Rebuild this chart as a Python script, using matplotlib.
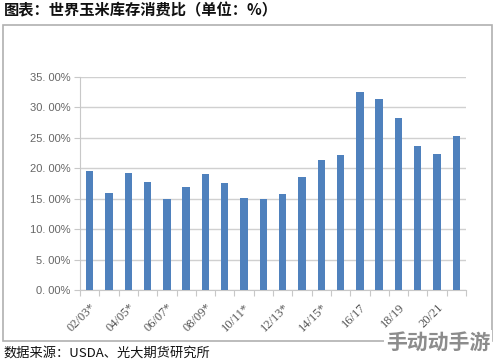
import matplotlib
matplotlib.use("Agg")
import matplotlib.pyplot as plt
from matplotlib.patches import Rectangle
from matplotlib.ticker import FixedLocator, FuncFormatter

plt.rcParams['font.family'] = ['Noto Sans CJK SC', 'DejaVu Sans']

categories = ["02/03*", "03/04*", "04/05*", "05/06*", "06/07*", "07/08*", "08/09*",
              "09/10*", "10/11*", "11/12*", "12/13*", "13/14*", "14/15*", "15/16*",
              "16/17", "17/18", "18/19", "19/20", "20/21", "21/22"]
values = [19.55, 16.0, 19.2, 17.8, 15.0, 16.9, 19.1, 17.6, 15.15, 15.0,
          15.7, 18.55, 21.4, 22.2, 32.5, 31.45, 28.2, 23.6, 22.4, 25.3]
yticks = [0, 5, 10, 15, 20, 25, 30, 35]

title = "图表：世界玉米库存消费比（单位：%）"
source = "数据来源：USDA、光大期货研究所"
watermark = "手动动手游"

W, H = 494, 362
fig = plt.figure(figsize=(W / 100, H / 100), dpi=100)

# outer frame
fig.patches.append(Rectangle((3 / W, 1 - 341 / H), (492 - 3) / W, (341 - 25) / H,
                             transform=fig.transFigure, fill=False,
                             edgecolor='#b0b0b0', linewidth=1.2))

ax = fig.add_axes([80 / W, 1 - 290 / H, (466 - 80) / W, (290 - 77) / H])
x = list(range(len(values)))
ax.bar(x, values, width=0.38, color='#4f81bd', zorder=3)
ax.set_xlim(-0.5, len(values) - 0.5)
ax.set_ylim(0, 35)
ax.set_yticks(yticks)
ax.yaxis.set_major_formatter(FuncFormatter(lambda v, p: f"{v:.2f}".replace(".", ". ") + "%"))
ax.grid(axis='y', color='#d0d0d0', linewidth=1, zorder=0)
for s in ['top', 'right']:
    ax.spines[s].set_visible(False)
ax.spines['left'].set_color('#c8c8c8')
ax.spines['bottom'].set_color('#c8c8c8')
ax.tick_params(axis='y', length=4, color='#c8c8c8', labelsize=8, labelcolor='#666666', pad=3)
for lbl in ax.get_yticklabels():
    lbl.set_family(['Liberation Sans', 'DejaVu Sans'])

# category boundary ticks
ax.xaxis.set_major_locator(FixedLocator([i - 0.5 for i in range(len(values) + 1)]))
ax.xaxis.set_major_formatter(FuncFormatter(lambda v, p: ""))
ax.tick_params(axis='x', which='major', length=4, color='#c8c8c8')
ax.xaxis.set_minor_locator(FixedLocator(x[::2]))
ax.set_xticklabels([categories[i] for i in x[::2]], minor=True)
ax.tick_params(axis='x', which='minor', length=0, labelsize=9, labelcolor='#555555', pad=8)
for lbl in ax.get_xticklabels(minor=True):
    lbl.set_rotation(45)
    lbl.set_ha('right')
    lbl.set_rotation_mode('anchor')
    lbl.set_family(['Liberation Serif', 'DejaVu Serif'])

fig.text(4 / W, 1 - 10 / H, title, fontsize=11, fontweight='bold', va='center', ha='left', color='#111111')
fig.text(3 / W, 1 - 353 / H, source, fontsize=9.5, va='center', ha='left', color='#111111')
fig.text(438 / W, 1 - 342 / H, watermark, fontsize=15, fontweight='bold', va='center', ha='center',
         color='#8c8c8c', bbox=dict(facecolor='white', edgecolor='none', pad=1))

fig.savefig("out.png", dpi=100)
